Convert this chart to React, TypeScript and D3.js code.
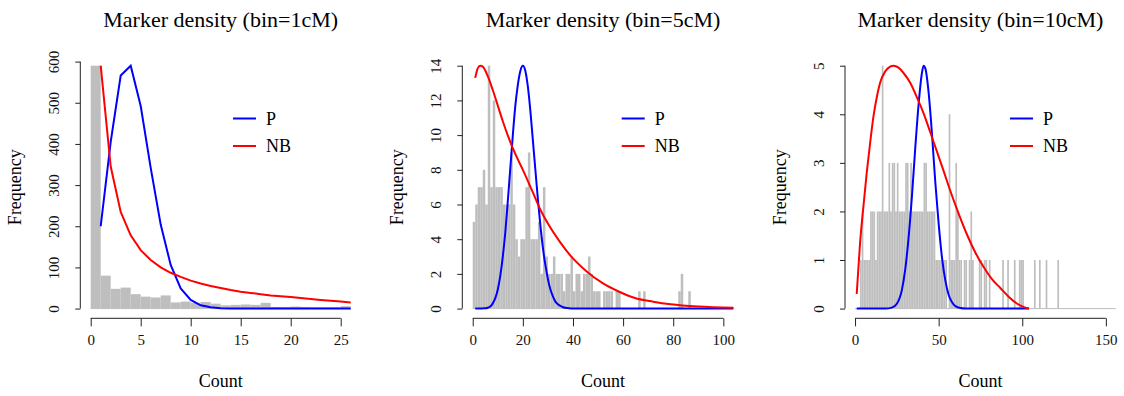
import React, { useRef, useEffect } from 'react';
import * as d3 from 'd3';

// ---- bin = 1cM ----
const p1Bins = [0, 1, 2, 3, 4, 5, 6, 7, 8, 9, 10, 11, 12, 13, 14, 15, 16, 17, 18, 19, 20, 21, 22, 23, 24, 25];
const p1Counts = [590, 80, 48, 51, 35, 29, 27, 32, 15, 17, 14, 16, 12, 8, 9, 10, 9, 14, 4, 4, 5, 4, 3, 3, 3, 6];
const p1X = [1, 2, 3, 4, 5, 6, 7, 8, 9, 10, 11, 12, 13, 14, 15, 16, 17, 18, 19, 20, 21, 22, 23, 24, 25, 26];
const p1Pois = [200, 405, 566, 590, 492, 342, 204, 106, 49, 21, 8, 3, 1, 0, 0, 0, 0, 0, 0, 0, 0, 0, 0, 0, 0, 0];
const p1NB = [590, 345, 235, 178, 142, 118, 100, 87, 77, 68, 61, 55, 50, 45, 41, 38, 35, 32, 30, 28, 25.5, 23.5, 21, 19, 17, 15];
const p1XTicks = [0, 5, 10, 15, 20, 25];
const p1YTicks = [0, 100, 200, 300, 400, 500, 600];

// ---- bin = 5cM ----
const p2Bins = [0, 1, 2, 3, 4, 5, 6, 7, 8, 9, 10, 11, 12, 13, 14, 15, 16, 17, 18, 19, 20, 21, 22, 23, 24, 25, 26, 27, 28, 29,
  30, 31, 32, 33, 34, 35, 36, 37, 38, 39, 40, 41, 42, 43, 44, 45, 46, 47, 48, 49, 50, 52, 53, 54, 55, 57, 58, 66, 68, 82, 83, 86];
const p2Counts = [5, 6, 7, 7, 8, 6, 14, 7, 12, 7, 7, 7, 6, 6, 6, 9, 6, 4, 3, 4, 4, 7, 9, 4, 4, 4, 5, 2, 7, 3,
  2, 2, 3, 2, 2, 2, 1, 2, 2, 3, 1, 2, 2, 1, 2, 2, 3, 2, 1, 1, 1, 1, 1, 1, 1, 1, 1, 1, 1, 1, 2, 1];
const p2PoisX = [1, 5, 6, 7, 8, 9, 10, 11, 12, 13, 14, 15, 16, 17, 18, 19, 20, 21, 22, 23, 24, 25, 26, 27, 28, 29, 30,
  31, 32, 33, 34, 35, 36, 38, 40, 104];
const p2Pois = [0, 0.02, 0.05, 0.12, 0.3, 0.6, 1.1, 1.9, 3.0, 4.4, 6.2, 8.1, 10.0, 11.7, 12.9, 13.7, 14.0, 13.7, 12.8, 11.4,
  9.7, 8.0, 6.3, 4.8, 3.5, 2.5, 1.7, 1.1, 0.7, 0.4, 0.25, 0.15, 0.08, 0.03, 0, 0];
const p2NBX = [1, 2, 3, 4, 6, 8, 10, 12, 15, 18, 20, 24, 27, 30, 35, 39, 45, 52, 58, 65, 72, 79, 90, 104];
const p2NB = [13.3, 13.85, 14.0, 13.95, 13.4, 12.6, 11.7, 10.8, 9.6, 8.6, 8.0, 6.7, 5.7, 4.9, 3.8, 3.05, 2.2, 1.45, 1.0,
  0.6, 0.4, 0.25, 0.12, 0.05];
const p2XTicks = [0, 20, 40, 60, 80, 100];
const p2YTicks = [0, 2, 4, 6, 8, 10, 12, 14];

// ---- bin = 10cM ----
const p3Bins = [3, 4, 5, 6, 7, 8, 9, 10, 11, 12, 13, 14, 15, 16, 17, 18, 19, 20, 21, 22, 23, 24, 25, 26, 27, 28, 29, 30,
  31, 32, 33, 34, 35, 36, 37, 38, 39, 40, 41, 42, 43, 44, 45, 46, 47, 48, 49, 50, 51, 52, 53, 54, 56, 57, 58, 59, 60,
  61, 62, 63, 65, 66, 68, 69, 70, 74, 75, 77, 78, 80, 88, 91, 95, 98, 99, 100, 107, 110, 114, 121];
const p3Counts = [1, 2, 1, 1, 1, 1, 2, 2, 2, 1, 2, 2, 2, 5, 2, 2, 2, 3, 2, 3, 3, 2, 3, 2, 2, 2, 2, 3,
  3, 2, 3, 2, 2, 2, 2, 2, 2, 2, 3, 3, 2, 2, 2, 2, 2, 1, 1, 1, 1, 1, 1, 1, 4, 1, 1, 1, 3,
  2, 1, 1, 1, 1, 1, 2, 1, 1, 1, 1, 1, 1, 1, 1, 1, 1, 1, 1, 1, 1, 1, 1];
const p3PoisX = [1, 18, 22, 25, 28, 30, 32, 34, 36, 38, 40, 41, 42, 44, 46, 48, 50, 52, 54, 56, 58, 60, 63, 66, 104];
const p3Pois = [0, 0, 0.02, 0.1, 0.38, 0.8, 1.45, 2.3, 3.3, 4.2, 4.85, 5.0, 4.95, 4.45, 3.6, 2.6, 1.75, 1.05, 0.58, 0.28,
  0.13, 0.05, 0.01, 0, 0];
const p3NBX = [1, 3, 5, 7, 9, 11, 13, 15, 18, 21, 23, 26, 29, 33, 37, 41, 45, 49, 53, 57, 62, 67, 72, 77, 82, 87, 92, 97, 101, 104];
const p3NB = [0.3, 1.35, 2.1, 2.8, 3.4, 3.95, 4.35, 4.65, 4.88, 4.98, 5.0, 4.96, 4.85, 4.65, 4.35, 4.02, 3.63, 3.23, 2.83,
  2.42, 1.95, 1.52, 1.15, 0.85, 0.6, 0.42, 0.24, 0.1, 0.03, 0];
const p3XTicks = [0, 50, 100, 150];
const p3YTicks = [0, 1, 2, 3, 4, 5];

const titles = ['Marker density (bin=1cM)', 'Marker density (bin=5cM)', 'Marker density (bin=10cM)'];
const legendLabels = ['P', 'NB'];
const legendColors = ['#0000ff', '#ff0000'];

const FONT = '"Liberation Serif", "Times New Roman", serif';

export default function App() {
  const ref = useRef<SVGSVGElement>(null);

  useEffect(() => {
    const svg = d3.select(ref.current);
    svg.selectAll('*').remove();

    const top = 56, bottom = 318.3;

    const panels = [
      { title: titles[0], bins: p1Bins, counts: p1Counts, histEnd: 26, xMax: 26, xTicks: p1XTicks, yTicks: p1YTicks,
        pX: p1X, p: p1Pois, nbX: p1X, nb: p1NB, smooth: false, left: 80.3, right: 361.1, legX: 233 },
      { title: titles[1], bins: p2Bins, counts: p2Counts, histEnd: 104, xMax: 104, xTicks: p2XTicks, yTicks: p2YTicks,
        pX: p2PoisX, p: p2Pois, nbX: p2NBX, nb: p2NB, smooth: true, left: 462.3, right: 743.8, legX: 621.7 },
      { title: titles[2], bins: p3Bins, counts: p3Counts, histEnd: 156, xMax: 150, xTicks: p3XTicks, yTicks: p3YTicks,
        pX: p3PoisX, p: p3Pois, nbX: p3NBX, nb: p3NB, smooth: true, left: 845, right: 1115.9, legX: 1010 },
    ];

    panels.forEach((pn, i) => {
      const pad = 0.04 * pn.xMax;
      const x = d3.scaleLinear().domain([-pad, pn.xMax + pad]).range([pn.left, pn.right]);
      const yMax = d3.max(pn.counts) as number;
      const y = d3.scaleLinear().domain([-0.04 * yMax, 1.04 * yMax]).range([bottom, top]);

      const clipId = `clip${i}`;
      svg.append('clipPath').attr('id', clipId)
        .append('rect')
        .attr('x', pn.left).attr('y', top)
        .attr('width', pn.right - pn.left).attr('height', bottom - top);

      const g = svg.append('g').attr('clip-path', `url(#${clipId})`);

      // histogram
      g.append('line')
        .attr('x1', x(0)).attr('x2', x(pn.histEnd))
        .attr('y1', y(0)).attr('y2', y(0))
        .attr('stroke', '#bebebe').attr('stroke-width', 1);

      g.selectAll('rect.bar')
        .data(pn.bins.map((b, j) => ({ b, c: pn.counts[j] })))
        .enter().append('rect')
        .attr('class', 'bar')
        .attr('x', d => x(d.b))
        .attr('width', d => x(d.b + 1) - x(d.b))
        .attr('y', d => y(d.c))
        .attr('height', d => y(0) - y(d.c))
        .attr('fill', '#bebebe');

      // fitted curves
      const line = d3.line<[number, number]>()
        .x(d => x(d[0]))
        .y(d => y(d[1]))
        .curve(pn.smooth ? d3.curveMonotoneX : d3.curveLinear);

      g.append('path')
        .datum(pn.pX.map((v, j) => [v, pn.p[j]] as [number, number]))
        .attr('fill', 'none')
        .attr('stroke', '#0000ff')
        .attr('stroke-width', 2)
        .attr('d', line);

      g.append('path')
        .datum(pn.nbX.map((v, j) => [v, pn.nb[j]] as [number, number]))
        .attr('fill', 'none')
        .attr('stroke', '#ff0000')
        .attr('stroke-width', 2)
        .attr('d', line);

      // axes
      const xt = pn.xTicks;
      const xAxis = svg.append('g')
        .attr('transform', `translate(0,${bottom})`)
        .call(d3.axisBottom(x).tickValues(xt).tickSize(8).tickPadding(18).tickFormat(d3.format('d')));
      xAxis.select('.domain').attr('d', `M${x(xt[0])},0H${x(xt[xt.length - 1])}`);
      xAxis.selectAll('line').attr('stroke', '#222');
      xAxis.selectAll('text')
        .attr('font-family', FONT).attr('font-size', 15).attr('fill', '#111')
        .attr('dy', '0.71em').attr('y', 16);

      const yt = pn.yTicks;
      const yAxis = svg.append('g')
        .attr('transform', `translate(${pn.left},0)`)
        .call(d3.axisLeft(y).tickValues(yt).tickSize(5).tickFormat(d3.format('d')));
      yAxis.select('.domain').attr('d', `M0,${y(yt[0])}V${y(yt[yt.length - 1])}`);
      yAxis.selectAll('line').attr('stroke', '#222');
      yAxis.selectAll('text')
        .attr('font-family', FONT).attr('font-size', 15).attr('fill', '#111')
        .attr('x', 0).attr('y', -21.5).attr('dy', 0)
        .attr('text-anchor', 'middle')
        .attr('transform', 'rotate(-90)');
      svg.selectAll('.domain').attr('stroke', '#222');

      // labels
      const cx = (pn.left + pn.right) / 2;
      svg.append('text')
        .attr('x', cx).attr('y', 26.5)
        .attr('text-anchor', 'middle')
        .attr('font-family', FONT).attr('font-size', 22)
        .text(pn.title);

      svg.append('text')
        .attr('x', cx).attr('y', 386.5)
        .attr('text-anchor', 'middle')
        .attr('font-family', FONT).attr('font-size', 18)
        .text('Count');

      svg.append('text')
        .attr('transform', `translate(${pn.left - 59},${(top + bottom) / 2}) rotate(-90)`)
        .attr('text-anchor', 'middle')
        .attr('font-family', FONT).attr('font-size', 18)
        .text('Frequency');

      // legend
      legendLabels.forEach((lab, k) => {
        const ly = 118.5 + k * 27.5;
        svg.append('line')
          .attr('x1', pn.legX).attr('x2', pn.legX + 23)
          .attr('y1', ly).attr('y2', ly)
          .attr('stroke', legendColors[k]).attr('stroke-width', 2);
        svg.append('text')
          .attr('x', pn.legX + 33).attr('y', ly + 6)
          .attr('font-family', FONT).attr('font-size', 18)
          .text(lab);
      });
    });
  }, []);

  return (
    <svg
      ref={ref}
      width={1124}
      height={396}
      style={{ position: 'absolute', left: 0, top: 0, background: '#fff' }}
    />
  );
}
